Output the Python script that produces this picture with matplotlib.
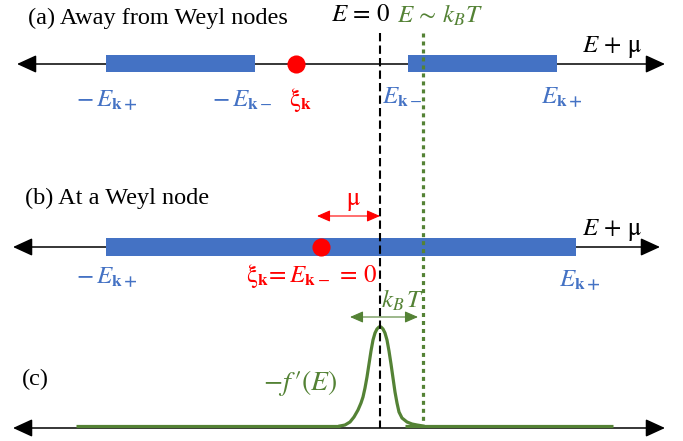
import numpy as np
import matplotlib
matplotlib.use('Agg')
import matplotlib.pyplot as plt

plt.rcParams['font.family'] = ['Liberation Serif', 'DejaVu Serif']
plt.rcParams['mathtext.fontset'] = 'stix'

BLUE = '#4472C4'
GREEN = '#548235'
RED = '#FF0000'

# energies in pixel units, E = 0 at x0
x0 = 380
kt_line = 43            # E ~ kBT line

# (a) away from Weyl nodes
bands_a = [(-274, -125), (28, 177)]
xi_a = -84

# (b) at a Weyl node
bands_b = [(-274, 196)]
xi_b = -59
mu_b = -63

# (c) -f'(E)
f_x = [-40, -35, -30, -26, -22, -19, -17, -15, -13, -11, -9, -7, -5, -3, -1,
       1, 3, 5, 7, 9, 11, 13, 15, 17, 19, 22, 27, 32, 37, 43]
f_h = [2, 3, 6, 11, 18, 25, 31, 40, 51, 64, 77, 88, 95, 99, 101,
       101, 99, 95, 88, 77, 64, 50, 36, 25, 16, 10, 6, 4, 3, 2]
f_flat = [(-304, -40), (25, 233)]
kt_arrow = (-30, 38)

# rows (pixel y)
ya, yb, yc = 64, 247, 428

fig = plt.figure(figsize=(6.83, 4.41), dpi=100)
ax = fig.add_axes([0, 0, 1, 1])
ax.set_xlim(0, 683)
ax.set_ylim(441, 0)
ax.axis('off')


def axis_arrow(y, left, right):
    ax.annotate('', xy=(right, y), xytext=(left, y),
                arrowprops=dict(arrowstyle='<|-|>,head_length=1.2,head_width=0.55',
                                color='black', lw=1.1, shrinkA=0, shrinkB=0,
                                mutation_scale=10), zorder=1)


def small_arrow(y, left, right, color):
    ax.annotate('', xy=(right, y), xytext=(left, y),
                arrowprops=dict(arrowstyle='<|-|>,head_length=0.8,head_width=0.35',
                                color=color, lw=0.8, shrinkA=0, shrinkB=0,
                                mutation_scale=10), zorder=5)


axis_arrow(ya, 17, 665)
axis_arrow(yb, 13, 660)
axis_arrow(yc, 13, 665)

for lo, hi in bands_a:
    ax.barh(ya - 0.5, hi - lo, left=x0 + lo, height=17, color=BLUE, zorder=2)
for lo, hi in bands_b:
    ax.barh(yb, hi - lo, left=x0 + lo, height=18, color=BLUE, zorder=2)

ax.scatter([x0 + xi_a, x0 + xi_b], [ya, yb], s=170, color=RED, zorder=4, linewidths=0)

# vertical reference lines
ax.plot([x0, x0], [33, yc], color='black', lw=1.5, ls=(0, (4, 2)), zorder=3)
ax.plot([x0 + kt_line] * 2, [33, 424], color=GREEN, lw=2.3, ls=(0, (1.25, 1.25)),
        zorder=3, solid_capstyle='butt', dash_capstyle='butt')

# -f'(E)
for lo, hi in f_flat:
    ax.plot([x0 + lo, x0 + hi], [yc - 2, yc - 2], color=GREEN, lw=2.3, zorder=2,
            solid_capstyle='butt')
ax.plot(x0 + np.array(f_x), yc - np.array(f_h), color=GREEN, lw=2.3, zorder=2,
        solid_joinstyle='round')

small_arrow(216, x0 + mu_b, x0, RED)
small_arrow(317, x0 + kt_arrow[0], x0 + kt_arrow[1], GREEN)

# labels
ax.text(28, 18, '(a) Away from Weyl nodes', fontsize=17.5, va='center', ha='left')
ax.text(25, 198, '(b) At a Weyl node', fontsize=17.5, va='center', ha='left')
ax.text(22, 379, '(c)', fontsize=17.5, va='center', ha='left')

mfs = 18
ax.text(361, 15, r'$E\,=\,0$', fontsize=mfs, ha='center', va='center')
ax.text(440, 15, r'$E\,\sim\,k_BT$', fontsize=mfs, ha='center', va='center', color=GREEN)

ax.text(612, 47, r'$E\,+\,\mathrm{\mu}$', fontsize=mfs, ha='center', va='center')
ax.text(612, 230, r'$E\,+\,\mathrm{\mu}$', fontsize=mfs, ha='center', va='center')

ax.text(107, 100, r'$-\,E_{\mathbf{k+}}$', fontsize=mfs, ha='center', va='center', color=BLUE)
ax.text(242, 100, r'$-\,E_{\mathbf{k}-}$', fontsize=mfs, ha='center', va='center', color=BLUE)
ax.text(300, 100, r'$\mathrm{\xi}_{\mathbf{k}}$', fontsize=mfs, ha='center', va='center', color=RED)
ax.text(402, 97, r'$E_{\mathbf{k}-}$', fontsize=mfs, ha='center', va='center', color=BLUE)
ax.text(562, 97, r'$E_{\mathbf{k+}}$', fontsize=mfs, ha='center', va='center', color=BLUE)

ax.text(107, 277, r'$-\,E_{\mathbf{k+}}$', fontsize=mfs, ha='center', va='center', color=BLUE)
ax.text(311, 276, r'$\mathrm{\xi}_{\mathbf{k}}\!=E_{\mathbf{k}-}\,=\,0$', fontsize=mfs,
        ha='center', va='center', color=RED)
ax.text(580, 280, r'$E_{\mathbf{k+}}$', fontsize=mfs, ha='center', va='center', color=BLUE)
ax.text(353, 202, r'$\mathrm{\mu}$', fontsize=mfs, ha='center', va='center', color=RED)

ax.text(403, 300, r'$k_B\,T$', fontsize=mfs, ha='center', va='center', color=GREEN)
ax.text(300, 383, r"$-f\/\prime(E)$", fontsize=20, ha='center', va='center', color=GREEN)

fig.savefig('out.png', dpi=100)
